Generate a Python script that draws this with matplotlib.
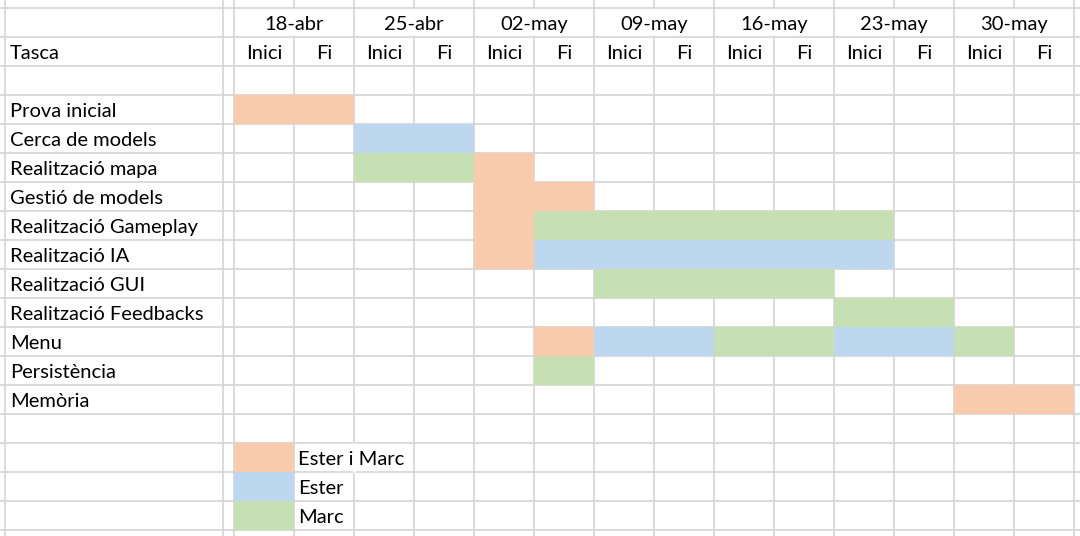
import matplotlib.pyplot as plt
from matplotlib.patches import Rectangle

plt.rcParams['font.family'] = ['Lato', 'DejaVu Sans']

weeks = ['18-abr', '25-abr', '02-may', '09-may', '16-may', '23-may', '30-may']
sub_labels = ['Inici', 'Fi']
tasks = ['Prova inicial', 'Cerca de models', 'Realització mapa', 'Gestió de models',
         'Realització Gameplay', 'Realització IA', 'Realització GUI',
         'Realització Feedbacks', 'Menu', 'Persistència', 'Memòria']

# (task index, first column, last column, who)
bars = [
    (0, 0, 1, 'both'),
    (1, 2, 3, 'ester'),
    (2, 2, 3, 'marc'), (2, 4, 4, 'both'),
    (3, 4, 5, 'both'),
    (4, 4, 4, 'both'), (4, 5, 10, 'marc'),
    (5, 4, 4, 'both'), (5, 5, 10, 'ester'),
    (6, 6, 9, 'marc'),
    (7, 10, 11, 'marc'),
    (8, 5, 5, 'both'), (8, 6, 7, 'ester'), (8, 8, 9, 'marc'), (8, 10, 11, 'ester'), (8, 12, 12, 'marc'),
    (9, 5, 5, 'marc'),
    (10, 12, 13, 'both'),
]
legend_keys = ['both', 'ester', 'marc']
legend_labels = ['Ester i Marc', 'Ester', 'Marc']
colors = {'both': '#F8CBAD', 'ester': '#BDD7EE', 'marc': '#C6E0B4'}

# sheet layout (pixels)
W, H = 1080, 536
row_h = 29
row0 = 8            # top of dates row
col_w = 60
grid_x0 = 234       # left of first date column
colA = (5, 223)
grid_color = '#D4D4D4'
fs = 14.5
pad = 7

fig = plt.figure(figsize=(W / 100, H / 100), dpi=100)
ax = fig.add_axes([0, 0, 1, 1])
ax.set_xlim(0, W)
ax.set_ylim(H, 0)
ax.axis('off')

def row_top(r):
    return row0 + r * row_h

def col_left(c):
    return grid_x0 + c * col_w

# horizontal lines
for r in range(-1, 20):
    y = row_top(r + 1)
    if 0 <= y <= H:
        ax.plot([0, W], [y, y], color=grid_color, lw=1.2, zorder=1)

# vertical lines
vlines = [colA[0], colA[1]] + [col_left(c) for c in range(15)]
for x in vlines:
    if x in [col_left(2 * i + 1) for i in range(7)]:
        # merged week header cells: skip the dates row
        ax.plot([x, x], [0, row_top(0)], color=grid_color, lw=1.2, zorder=1)
        ax.plot([x, x], [row_top(1), H], color=grid_color, lw=1.2, zorder=1)
    else:
        ax.plot([x, x], [0, H], color=grid_color, lw=1.2, zorder=1)

# header
for i, wk in enumerate(weeks):
    ax.text(col_left(2 * i) + col_w, row_top(1) - pad, wk, ha='center', va='baseline', fontsize=fs)
    for j, s in enumerate(sub_labels):
        ax.text(col_left(2 * i + j) + col_w / 2, row_top(2) - pad, s, ha='center', va='baseline', fontsize=fs)
ax.text(10, row_top(2) - pad, 'Tasca', ha='left', va='baseline', fontsize=fs)

# task names
for k, t in enumerate(tasks):
    ax.text(10, row_top(k + 4) - pad, t, ha='left', va='baseline', fontsize=fs)

# bars
for k, c0, c1, who in bars:
    ax.add_patch(Rectangle((col_left(c0), row_top(k + 3)), (c1 - c0 + 1) * col_w, row_h,
                           facecolor=colors[who], edgecolor='none', zorder=2))

# legend
renderer = fig.canvas.get_renderer()
for n, (key, lab) in enumerate(zip(legend_keys, legend_labels)):
    r = len(tasks) + 4 + n
    ax.add_patch(Rectangle((col_left(0), row_top(r)), col_w, row_h,
                           facecolor=colors[key], edgecolor='none', zorder=2))
    t = ax.text(col_left(1) + 4, row_top(r + 1) - pad, lab, ha='left', va='baseline', fontsize=fs, zorder=3)
    # text spilling into the next cell hides the grid line (like a spreadsheet)
    bb = t.get_window_extent(renderer)
    if bb.x1 > col_left(2):
        ax.plot([col_left(2), col_left(2)], [row_top(r) + 1, row_top(r + 1) - 1],
                color='white', lw=2, zorder=1.5)

fig.savefig('out.png', dpi=100)
